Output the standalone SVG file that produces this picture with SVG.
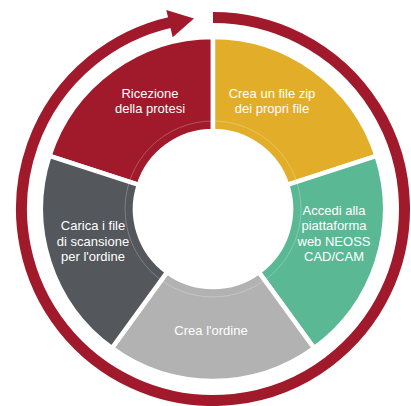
<svg xmlns="http://www.w3.org/2000/svg" width="411" height="406" viewBox="0 0 411 406">
<style>
.seg{stroke:#fff;stroke-width:4.5;stroke-linejoin:miter}
.lbl{font-family:"Liberation Sans",Arial,sans-serif;font-size:13px;fill:#fff;text-anchor:middle}
.ring{fill:none;stroke:#A01A2B;stroke-width:11}
</style>
<rect width="411" height="406" fill="#fff"/>
<g id="connectors">
<path class="ring" d="M213,17.5 A191.5,191.5 0 1 1 171.55,22.04"/>
<polygon points="166.3,9.9 193.98,18.45 172.69,37.16" fill="#A01A2B"/>
</g>
<g id="node-ricezione">
<path class="seg" fill="#A01A2B" d="M49.42,155.85 A172,172 0 0 1 213,37 L213,131 A78,78 0 0 0 138.82,184.9 Z"/>
<text class="lbl" x="150" y="98">Ricezione</text>
<text class="lbl" x="150" y="112.5">della protesi</text>
</g>
<g id="node-zip">
<path class="seg" fill="#E2AE2A" d="M213,37 A172,172 0 0 1 376.58,155.85 L287.18,184.9 A78,78 0 0 0 213,131 Z"/>
<text class="lbl" x="272" y="98">Crea un file zip</text>
<text class="lbl" x="272" y="112.5">dei propri file</text>
</g>
<g id="node-accedi">
<path class="seg" fill="#5BB895" d="M376.58,155.85 A172,172 0 0 1 314.1,348.15 L258.85,272.1 A78,78 0 0 0 287.18,184.9 Z"/>
<text class="lbl" x="334" y="215">Accedi alla</text>
<text class="lbl" x="334" y="230">piattaforma</text>
<text class="lbl" x="334" y="245.5">web NEOSS</text>
<text class="lbl" x="334" y="260.5">CAD/CAM</text>
</g>
<g id="node-ordine">
<path class="seg" fill="#B2B2B2" d="M314.1,348.15 A172,172 0 0 1 111.9,348.15 L167.15,272.1 A78,78 0 0 0 258.85,272.1 Z"/>
<text class="lbl" x="211" y="334.5">Crea l'ordine</text>
</g>
<g id="node-carica">
<path class="seg" fill="#54575B" d="M111.9,348.15 A172,172 0 0 1 49.42,155.85 L138.82,184.9 A78,78 0 0 0 167.15,272.1 Z"/>
<text class="lbl" x="93" y="230">Carica i file</text>
<text class="lbl" x="93" y="245.5">di scansione</text>
<text class="lbl" x="93" y="260.5">per l'ordine</text>
</g>
<circle cx="213" cy="209" r="88" fill="none" stroke="#fff" stroke-opacity="0.3" stroke-width="0.8"/>
</svg>
